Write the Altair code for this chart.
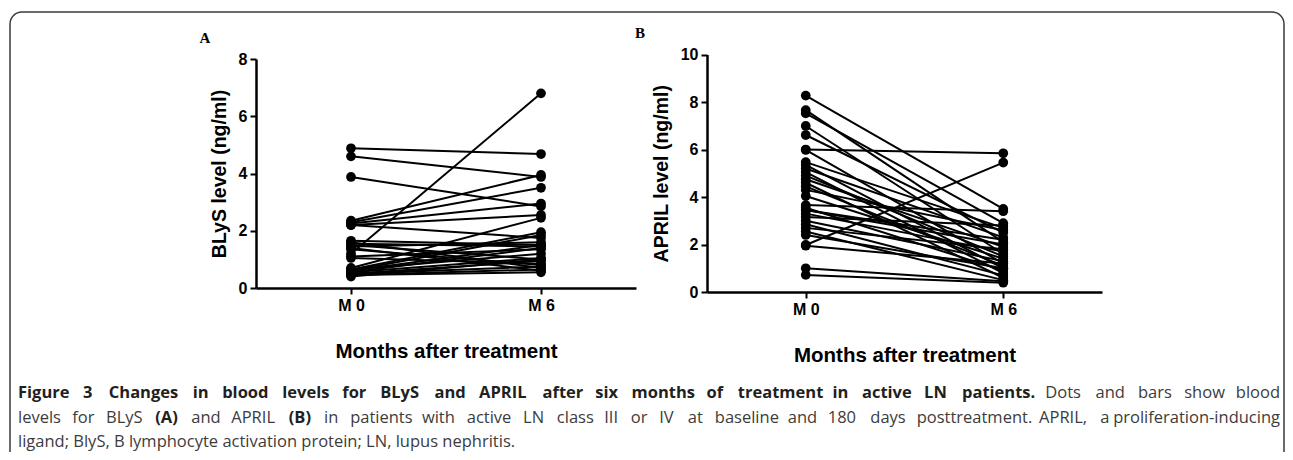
import altair as alt
import pandas as pd

# ---- data ----
times = ["M 0", "M 6"]

blys_m0 = [4.88, 4.60, 3.88, 1.20, 2.35, 2.30, 2.25, 2.20, 2.20, 1.65, 1.60, 1.55, 1.50, 1.45, 1.40,
           1.10, 1.05, 0.70, 0.65, 0.60, 0.60, 0.55, 0.55, 0.50, 0.50, 0.45, 0.45, 0.65, 1.35, 0.40]
blys_m6 = [4.68, 3.88, 2.85, 6.80, 3.95, 3.50, 2.95, 2.55, 1.75, 1.50, 0.70, 1.45, 1.00, 1.60, 0.60,
           1.35, 0.85, 2.45, 1.95, 1.85, 1.50, 1.40, 1.05, 0.95, 0.75, 0.55, 0.65, 1.20, 0.80, 1.00]

april_m0 = [8.27, 7.66, 7.52, 6.99, 6.61, 6.00, 5.98, 5.47, 5.35, 5.20, 5.05, 4.90, 4.75, 4.60, 4.45, 4.30,
            4.04, 3.66, 3.55, 3.45, 3.30, 3.16, 3.00, 2.85, 2.70, 2.55, 2.40, 1.98, 1.95, 1.00, 0.72, 3.45]
april_m6 = [3.50, 2.10, 2.90, 1.60, 2.50, 5.84, 1.20, 2.70, 1.00, 2.30, 0.80, 1.50, 1.90, 0.60, 1.10, 2.60,
            1.40, 3.40, 0.90, 2.20, 1.70, 2.80, 1.30, 0.70, 1.80, 0.50, 1.00, 5.45, 1.20, 0.45, 0.39, 2.00]

blys_ticks = [0, 2, 4, 6, 8]
april_ticks = [0, 2, 4, 6, 8, 10]

caption_line1 = [("Figure 3 Changes in blood levels for BLyS and APRIL after six months of treatment in active LN patients.", True),
                 ("Dots and bars show blood", False)]
caption_line2 = [("levels for BLyS", False), ("(A)", True), ("and APRIL", False), ("(B)", True),
                 ("in patients with active LN class III or IV at baseline and 180 days posttreatment. APRIL, a proliferation-inducing", False)]
caption_line3 = "ligand; BlyS, B lymphocyte activation protein; LN, lupus nephritis."


def long_df(m0, m6):
    rows = []
    for i, (a, b) in enumerate(zip(m0, m6)):
        rows.append({"pid": i, "time": times[0], "value": a})
        rows.append({"pid": i, "time": times[1], "value": b})
    return pd.DataFrame(rows)


df_a = long_df(blys_m0, blys_m6)
df_b = long_df(april_m0, april_m6)

W, H = 1277, 444
FONT = "Liberation Sans"


def axis_common(**kw):
    base = dict(grid=False, domainColor="black", domainWidth=2.5, tickColor="black", tickWidth=2,
                tickSize=6, labelFont=FONT, labelFontWeight="bold", labelFontSize=16, labelColor="black",
                labelPadding=3, titleFont=FONT, titleFontSize=19.5, titleFontWeight="bold",
                titleColor="black", labelFlush=False, labelOverlap=False)
    base.update(kw)
    return alt.Axis(**base)


def panel(df, xrange, yrange, ydomain, yticks, ytitle, xoff, yoff, ytp):
    xs = alt.Scale(type="point", domain=times, range=xrange, padding=0.5)
    ys = alt.Scale(domain=ydomain, range=yrange, nice=False, zero=True)
    lines = alt.Chart(df).mark_line(color="black", strokeWidth=2).encode(
        x=alt.X("time:N", scale=xs, sort=times,
                axis=axis_common(orient="bottom", offset=xoff, labelAngle=0, titleFontSize=20.5,
                                 title="Months after treatment", titlePadding=28)),
        y=alt.Y("value:Q", scale=ys,
                axis=axis_common(orient="left", offset=yoff, values=yticks, format="d",
                                 title=ytitle, titlePadding=ytp)),
        detail="pid:N",
    )
    pts = alt.Chart(df).mark_circle(color="black", opacity=1, size=95).encode(
        x=alt.X("time:N", scale=xs, sort=times, axis=None),
        y=alt.Y("value:Q", scale=ys, axis=None),
    )
    return [lines, pts]


layers_a = panel(df_a, [248, 628], [280, 51], [0, 8], blys_ticks, "BLyS level (ng/ml)", 280 - H, -248, 9)
layers_b = panel(df_b, [699, 1094], [284, 46.5], [0, 10], april_ticks, "APRIL level (ng/ml)", 284 - H, -699, 9)

one = pd.DataFrame({"k": [0]})

frame = alt.Chart(one).mark_rect(fill="white", fillOpacity=0, stroke="#3a3a3a", strokeWidth=1.5,
                                 cornerRadius=12).encode(
    x=alt.value(2), x2=alt.value(1276), y=alt.value(4), y2=alt.value(520))

CAP_FONT = "Open Sans"
CAP_SIZE = 16.5
CAP_REG = "#3c3c3c"
CAP_BOLD = "#231f20"


def txt(text, x, y, size=CAP_SIZE, weight="normal", color=CAP_REG, align="left", font=CAP_FONT):
    return alt.Chart(one).mark_text(text=text, font=font, fontSize=size, fontWeight=weight, color=color,
                                    align=align, baseline="middle").encode(x=alt.value(x), y=alt.value(y))


# approximate glyph advance widths (em) for justified caption layout
GW = dict(a=.49, b=.55, c=.46, d=.55, e=.52, f=.32, g=.50, h=.55, i=.23, j=.23, k=.50, l=.23, m=.83, n=.55,
          o=.55, p=.55, q=.55, r=.36, s=.42, t=.34, u=.55, v=.50, w=.75, x=.49, y=.50, z=.45,
          A=.66, B=.62, C=.68, D=.74, E=.55, F=.53, G=.72, H=.74, I=.27, J=.37, K=.64, L=.48, M=.90, N=.75,
          O=.79, P=.59, Q=.79, R=.61, S=.52, T=.57, U=.72, V=.66, W=1.0, X=.64, Y=.62, Z=.60)
GW.update({".": .24, ",": .22, ";": .24, ":": .24, "(": .30, ")": .30, "-": .34})


def word_w(word, bold):
    return sum(GW.get(c, .58) for c in word) * CAP_SIZE * 1.04 * (1.08 if bold else 1.0)


def justified(segments, x0, x1, y):
    words = []
    for text, bold in segments:
        for w in text.split(" "):
            words.append((w, bold))
    total = sum(word_w(w, b) for w, b in words)
    gap = (x1 - x0 - total) / (len(words) - 1)
    marks = []
    x = x0
    for w, b in words:
        marks.append(txt(w, x, y, weight="bold" if b else "normal", color=CAP_BOLD if b else CAP_REG))
        x += word_w(w, b) + gap
    # last word right-aligned at margin
    marks[-1] = txt(words[-1][0], x1, y, align="right", weight="bold" if words[-1][1] else "normal",
                    color=CAP_BOLD if words[-1][1] else CAP_REG)
    return marks


texts = [
    txt("A", 197, 30, size=15, weight="bold", color="black", align="center", font="Liberation Serif"),
    txt("B", 632, 25, size=15, weight="bold", color="black", align="center", font="Liberation Serif"),
]
texts += justified(caption_line1, 10, 1272, 385)
texts += justified(caption_line2, 10, 1272, 410)
texts.append(txt(caption_line3, 10, 434))

chart = alt.layer(frame, *layers_a, *layers_b, *texts).resolve_scale(
    x="independent", y="independent").resolve_axis(x="independent", y="independent").properties(
    width=W, height=H, autosize=alt.AutoSizeParams(type="none"), padding=0,
).configure_view(stroke=None)

chart.save("out.html", embed_options={"renderer": "svg", "actions": False})
